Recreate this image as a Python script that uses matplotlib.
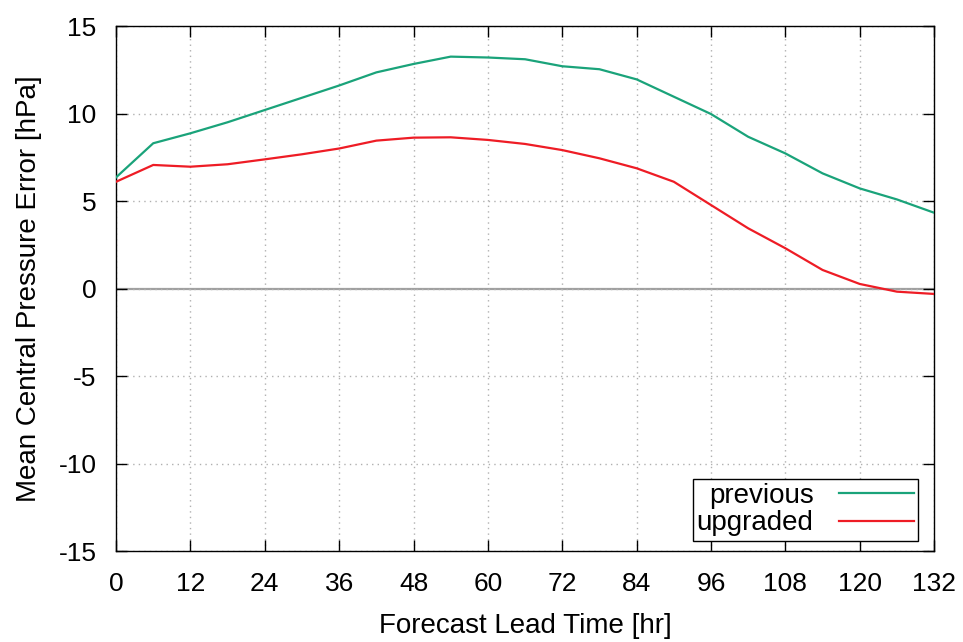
import matplotlib
matplotlib.use("Agg")
import matplotlib.pyplot as plt

plt.rcParams['font.family'] = ['Liberation Sans', 'DejaVu Sans']
plt.rcParams['axes.unicode_minus'] = False

# forecast lead time [hr]
lead_time = [0, 6, 12, 18, 24, 30, 36, 42, 48, 54, 60, 66,
             72, 78, 84, 90, 96, 102, 108, 114, 120, 126, 132]

# mean central pressure error [hPa]
previous = [6.35, 8.3, 8.87, 9.5, 10.2, 10.9, 11.6, 12.35, 12.83, 13.25, 13.2, 13.1,
            12.7, 12.53, 11.95, 10.96, 9.97, 8.67, 7.72, 6.58, 5.72, 5.09, 4.33]
upgraded = [6.1, 7.06, 6.96, 7.1, 7.38, 7.67, 8.0, 8.45, 8.62, 8.64, 8.49, 8.26,
            7.91, 7.44, 6.87, 6.1, 4.77, 3.44, 2.3, 1.06, 0.26, -0.18, -0.31]

xticks = list(range(0, 133, 12))
yticks = [-15, -10, -5, 0, 5, 10, 15]

fig = plt.figure(figsize=(9.63, 6.42), dpi=100)
ax = fig.add_axes([0.1205, 0.1417, 0.8495, 0.8178])

ax.axhline(0, color='#a0a0a0', lw=1.6, zorder=1)
ax.plot(lead_time, previous, color='#1aa37a', lw=1.6, label='previous', zorder=3)
ax.plot(lead_time, upgraded, color='#ee1c25', lw=1.6, label='upgraded', zorder=3)

ax.set_xlim(0, 132)
ax.set_ylim(-15, 15)
ax.set_xticks(xticks)
ax.set_yticks(yticks)
ax.grid(True, color='#b0b0b0', linestyle=(0, (1, 3)), lw=1)
ax.tick_params(direction='in', length=8, width=1, labelsize=19, top=True, right=True)
ax.tick_params(axis='x', pad=15)
ax.tick_params(axis='y', pad=14)
for s in ax.spines.values():
    s.set_linewidth(1)

ax.set_xlabel('Forecast Lead Time [hr]', fontsize=20, labelpad=12)
ax.set_ylabel('Mean Central Pressure Error [hPa]', fontsize=20, labelpad=12)

leg = ax.legend(loc='lower right', fontsize=20, markerfirst=False, fancybox=False,
                framealpha=1, edgecolor='black', handlelength=2.7,
                bbox_to_anchor=(0.98, 0.02), borderaxespad=0,
                handletextpad=0.9, borderpad=0.15, labelspacing=0.05)
leg.get_frame().set_linewidth(1)

fig.savefig('out.png', dpi=100)
